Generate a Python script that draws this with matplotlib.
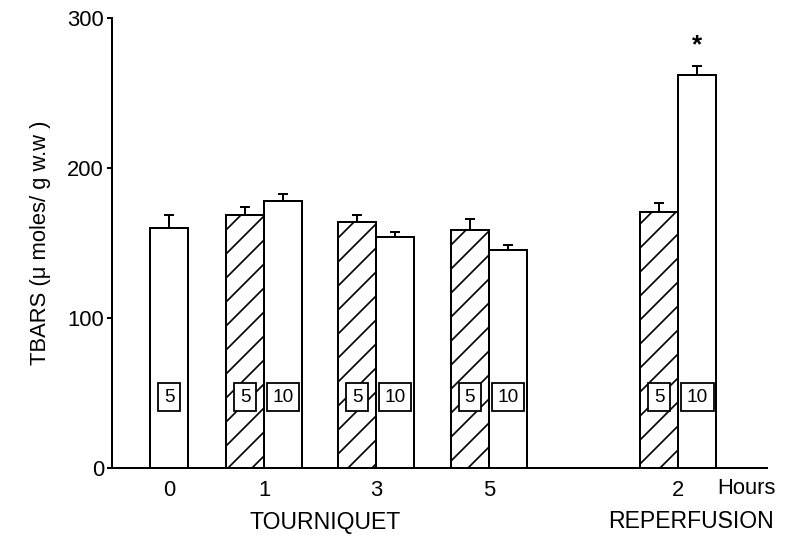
import matplotlib
matplotlib.use('Agg')
import matplotlib.pyplot as plt

# 數據
hours = ['0', '1', '3', '5', '2']
hatched_vals = [None, 169, 164, 159, 171]
hatched_err = [None, 5, 5, 7, 6]
hatched_n = [None, '5', '5', '5', '5']
open_vals = [160, 178, 154, 145, 262]
open_err = [9, 4.5, 3.5, 3.5, 6]
open_n = ['5', '10', '10', '10', '10']

plt.rcParams['font.family'] = ['Liberation Sans', 'DejaVu Sans']
plt.rcParams['hatch.linewidth'] = 1.7

DPI = 72
fig = plt.figure(figsize=(787 / DPI, 540 / DPI), dpi=DPI)
ax = fig.add_axes([112 / 787, 72.5 / 540, 655 / 787, 449 / 540])

# 組中心位置（每根長條寬度為 1）
centers = [1.5, 4.0, 6.95, 9.92, 14.9]
width = 1.0
box_y = 47
box_style = dict(boxstyle='square,pad=0.3', facecolor='white',
                 edgecolor='black', linewidth=1.8)

for i, c in enumerate(centers):
    if hatched_vals[i] is None:
        xo = c
    else:
        xh = c - width / 2
        xo = c + width / 2
        ax.bar(xh, hatched_vals[i], width=width, facecolor='white', edgecolor='black',
               linewidth=2, hatch='/', zorder=2)
        ax.errorbar(xh, hatched_vals[i], yerr=[[0], [hatched_err[i]]], fmt='none',
                    ecolor='black', elinewidth=2, capsize=5, capthick=2, zorder=1)
        ax.text(xh, box_y, hatched_n[i], ha='center', va='center', fontsize=19,
                bbox=box_style, zorder=3)
    ax.bar(xo, open_vals[i], width=width, facecolor='white', edgecolor='black',
           linewidth=2, zorder=2)
    ax.errorbar(xo, open_vals[i], yerr=[[0], [open_err[i]]], fmt='none',
                ecolor='black', elinewidth=2, capsize=5, capthick=2, zorder=1)
    ax.text(xo, box_y, open_n[i], ha='center', va='center', fontsize=19,
            bbox=box_style, zorder=3)

# 顯著性星號
ax.text(centers[-1] + width / 2, open_vals[-1] + open_err[-1] + 6, '*',
        ha='center', va='bottom', fontsize=26, fontweight='bold')

ax.set_xlim(0, 655 / 38)
ax.set_ylim(0, 300)
ax.set_yticks([0, 100, 200, 300])
ax.tick_params(axis='y', direction='out', length=5, width=2, labelsize=22, pad=3)
ax.set_xticks(centers)
ax.set_xticklabels(hours)
ax.tick_params(axis='x', length=0, labelsize=22, pad=12)

for s in ['top', 'right']:
    ax.spines[s].set_visible(False)
ax.spines['left'].set_linewidth(2)
ax.spines['bottom'].set_linewidth(2)

ax.set_ylabel('TBARS (\u03bc moles/ g w.w )', fontsize=22, labelpad=16)

fig.text(717 / 787, 1 - 489 / 540, 'Hours', ha='left', va='center', fontsize=22)
fig.text(325 / 787, 1 - 522 / 540, 'TOURNIQUET', ha='center', va='center', fontsize=23)
fig.text(691 / 787, 1 - 521 / 540, 'REPERFUSION', ha='center', va='center', fontsize=23)

fig.savefig('out.png', dpi=DPI, facecolor='white')
